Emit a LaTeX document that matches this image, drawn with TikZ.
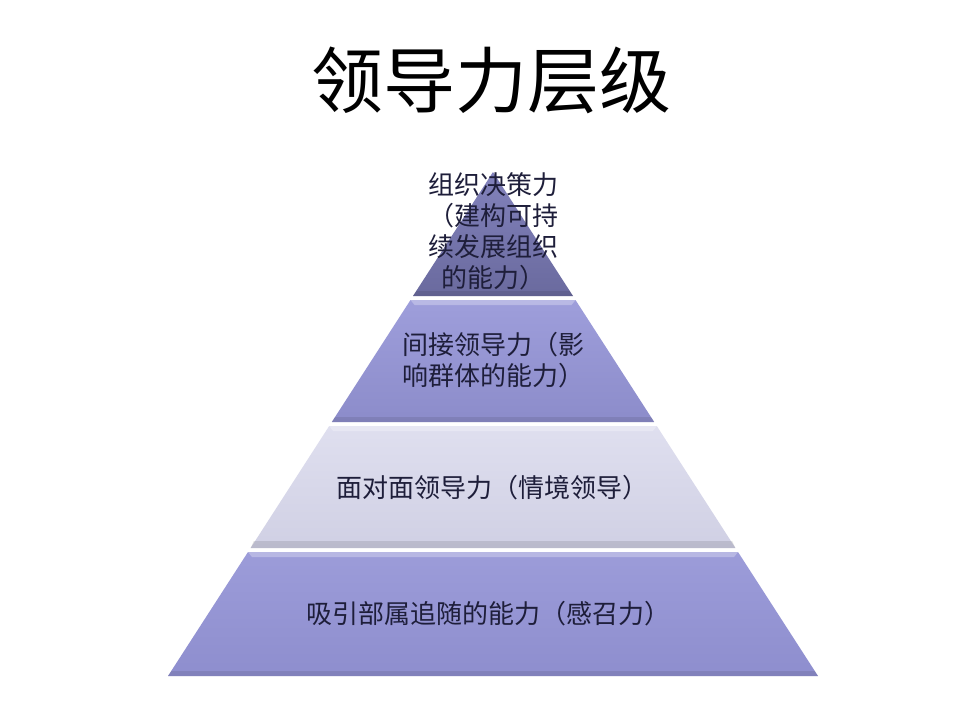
\documentclass[tikz,border=0pt]{standalone}
\usepackage{fontspec}
\newfontfamily\cjk{Noto Sans CJK SC}
\definecolor{laytop}{HTML}{8282BC}
\definecolor{laybot}{HTML}{6A6A9E}
\definecolor{latop}{HTML}{9E9EDB}
\definecolor{labot}{HTML}{8C8CCA}
\definecolor{lbtop}{HTML}{DFDFEF}
\definecolor{lbbot}{HTML}{D0D0E4}
\definecolor{lctop}{HTML}{9C9CD9}
\definecolor{lcbot}{HTML}{8E8ECE}
\definecolor{txt}{HTML}{1E1E3A}
\tikzset{
  layertext/.style={font=\cjk\fontsize{26}{31}\selectfont, text=txt, align=center, inner sep=0pt},
  hilite/.style={fill=white, fill opacity=0.28},
  darkstrip/.style={fill=black, fill opacity=0.09},
}
\begin{document}
\begin{tikzpicture}[x=1pt,y=-1pt]
\useasboundingbox (0,0) rectangle (960,720);
\fill[white] (0,0) rectangle (960,720);
% title
\node[font=\cjk\fontsize{72}{80}\selectfont, inner sep=0pt] (title) at (491,80) {领导力层级};
% layer 1 (apex)
\shade[top color=laytop, bottom color=laybot] (493,172) -- (573.0,296) -- (413.0,296) -- cycle;
\fill[darkstrip] (416.2,291) -- (569.8,291) -- (573.0,296) -- (413.0,296) -- cycle;
% layer 2
\shade[top color=latop, bottom color=labot] (410.5,300) -- (575.5,300) -- (654.2,422) -- (331.8,422) -- cycle;
\fill[hilite] (410.5,300) -- (575.5,300) -- (571.5,305) -- (414.5,305) -- cycle;
\fill[darkstrip] (335.0,417) -- (651.0,417) -- (654.2,422) -- (331.8,422) -- cycle;
% layer 3
\shade[top color=lbtop, bottom color=lbbot] (329.2,426) -- (656.8,426) -- (735.4,548) -- (250.6,548) -- cycle;
\fill[hilite] (329.2,426) -- (656.8,426) -- (652.8,431) -- (333.2,431) -- cycle;
\fill[black, fill opacity=0.1] (253.8,541) -- (732.2,541) -- (735.4,548) -- (250.6,548) -- cycle;
% layer 4
\shade[top color=lctop, bottom color=lcbot] (248.0,552) -- (738.0,552) -- (818,676) -- (168,676) -- cycle;
\fill[hilite] (248.0,552) -- (738.0,552) -- (734.0,557) -- (252.0,557) -- cycle;
\fill[darkstrip] (171.2,671) -- (814.8,671) -- (818,676) -- (168,676) -- cycle;
% texts
\node[layertext] (t1) at (493,231) {组织决策力\\（建构可持\\续发展组织\\的能力）};
\node[layertext] (t2) at (493,360) {间接领导力（影\\响群体的能力）};
\node[layertext] (t3) at (492,488) {面对面领导力（情境领导）};
\node[layertext] (t4) at (488,614) {吸引部属追随的能力（感召力）};
\end{tikzpicture}
\end{document}
